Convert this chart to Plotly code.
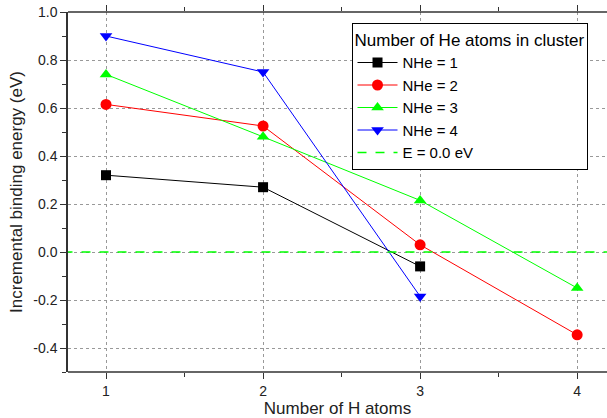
import plotly.graph_objects as go

n_h = [1, 2, 3, 4]
nhe1 = [0.32, 0.27, -0.06]
nhe2 = [0.615, 0.525, 0.03, -0.345]
nhe3 = [0.74, 0.48, 0.215, -0.15]
nhe4 = [0.90, 0.75, -0.185]
zero_x = [0.5, 4.5]
zero_y = [0.0, 0.0]

series = [
    ("NHe = 1", nhe1, "black", "square"),
    ("NHe = 2", nhe2, "red", "circle"),
    ("NHe = 3", nhe3, "#00ff00", "triangle-up"),
    ("NHe = 4", nhe4, "blue", "triangle-down"),
]

fig = go.Figure()
for name, ys, col, sym in series:
    fig.add_trace(go.Scatter(
        x=n_h[:len(ys)], y=ys, name=name, mode="lines+markers",
        line=dict(color=col, width=1),
        marker=dict(symbol=sym, size=11 if sym != "square" else 10, color=col),
    ))
fig.add_trace(go.Scatter(
    x=zero_x, y=zero_y, name="E = 0.0 eV", mode="lines",
    line=dict(color="#00ff00", width=1.5, dash="dash"),
))

# frame lines (bottom and top) drawn as paper shapes
for yy in (0, 1):
    fig.add_shape(type="line", xref="paper", yref="paper", x0=0, x1=1, y0=yy, y1=yy,
                  line=dict(color="#333", width=1.5), layer="above")

font = "Liberation Sans, Arial, sans-serif"
xr = [0.758, 4.19]
fig.update_layout(
    width=607, height=418,
    margin=dict(l=68, r=0, t=12, b=46, autoexpand=False),
    paper_bgcolor="white", plot_bgcolor="white",
    font=dict(family=font, size=14, color="#222"),
    legend=dict(
        title=dict(text="Number of He atoms in cluster", font=dict(size=17, color="black")),
        font=dict(size=15, color="black"),
        x=0.526, y=0.969, xanchor="left", yanchor="top",
        bordercolor="black", borderwidth=1, bgcolor="white",
        tracegroupgap=0, itemwidth=40,
    ),
    xaxis=dict(
        range=xr, tickvals=[1, 2, 3, 4],
        showline=False, mirror="allticks",
        ticks="outside", ticklen=6, tickcolor="#333", tickwidth=1.2,
        minor=dict(dtick=0.5, tick0=0.5, ticks="outside", ticklen=4, tickcolor="#333", showgrid=False),
        showgrid=True, gridcolor="#999", griddash="dot", gridwidth=1,
        zeroline=False,
        title=dict(text="Number of H atoms", font=dict(size=17, color="#222"), standoff=4),
        tickfont=dict(size=14, color="#222"),
    ),
    yaxis=dict(
        range=[-0.5, 1.0], tickvals=[-0.4, -0.2, 0.0, 0.2, 0.4, 0.6, 0.8, 1.0],
        ticktext=["-0.4", "-0.2", "0.0", "0.2", "0.4", "0.6", "0.8", "1.0"],
        showline=True, linecolor="#333", linewidth=1.5, mirror=False,
        ticks="outside", ticklen=6, tickcolor="#333", tickwidth=1.2,
        minor=dict(dtick=0.1, tick0=0, ticks="outside", ticklen=4, tickcolor="#333", showgrid=False),
        showgrid=True, gridcolor="#999", griddash="dot", gridwidth=1,
        zeroline=False,
        title=dict(text="Incremental binding energy (eV)", font=dict(size=17, color="#222"), standoff=6),
        tickfont=dict(size=14, color="#222"),
    ),
)
fig.write_html("out.html")
